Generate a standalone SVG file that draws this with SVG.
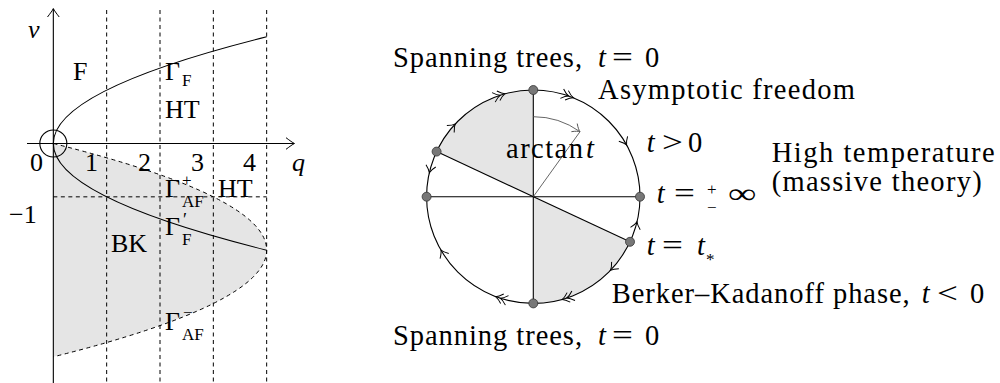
<svg xmlns="http://www.w3.org/2000/svg" width="1000" height="383" viewBox="0 0 1000 383" font-family="'Liberation Serif', 'DejaVu Serif', serif">
<style>
text{font-family:'Liberation Serif','DejaVu Serif',serif;fill:#000}
.l{font-size:26px}
.r{font-size:28.5px}
.s{font-size:17px}
.i{font-style:italic}
.ln{fill:none;stroke:#000;stroke-width:1.1}
.ds{fill:none;stroke:#000;stroke-width:1;stroke-dasharray:4 3.5}
.dot{fill:#777;stroke:#333;stroke-width:0.8}
.ah{fill:none;stroke:#000;stroke-width:1}
</style>
<defs>
<path id="ah" d="M -7,-5 C -4,-2 -1.5,-0.5 0,0 C -1.5,0.5 -4,2 -7,5"/>
<g id="ah2"><use href="#ah" x="5"/><use href="#ah"/></g>
</defs>
<g id="plot">
<path id="bk-region" d="M 53.33,143.5 Q 480,250.17 53.33,356.83 Z" fill="#e5e5e5"/>
<g id="grid">
<line class="ds" x1="106.67" y1="10" x2="106.67" y2="383"/>
<line class="ds" x1="160" y1="10" x2="160" y2="383"/>
<line class="ds" x1="213.33" y1="10" x2="213.33" y2="383"/>
<line class="ds" x1="266.67" y1="10" x2="266.67" y2="383"/>
<line class="ds" x1="53.33" y1="196.83" x2="266.67" y2="196.83"/>
</g>
<g id="connectors">
<path id="gamma-af" class="ds" d="M 53.33,143.5 Q 480,250.17 53.33,356.83"/>
<path id="gamma-f" class="ln" d="M 53.33,143.5 Q 53.33,90.17 266.67,36.83"/>
<path id="gamma-fp" class="ln" d="M 53.33,143.5 Q 53.33,196.83 266.67,250.17"/>
<line class="ln" x1="53.33" y1="383" x2="53.33" y2="9"/>
<path class="ah" d="M 47.5,17 C 50.5,13 52.5,10.5 53.33,8.5 C 54.2,10.5 56.2,13 59.2,17"/>
<line class="ln" x1="27" y1="143.5" x2="294" y2="143.5"/>
<path class="ah" d="M 286,137.7 C 290,140.7 292.5,142.6 294.5,143.5 C 292.5,144.4 290,146.3 286,149.3"/>
<circle class="ln" cx="53.33" cy="143.5" r="13.5"/>
</g>
<g id="plot-labels">
<text class="l i" x="28" y="38">v</text>
<text class="l i" x="292" y="171">q</text>
<text class="l" x="30" y="171">0</text>
<text class="l" x="85" y="171">1</text>
<text class="l" x="138" y="171">2</text>
<text class="l" x="191" y="171">3</text>
<text class="l" x="243" y="171">4</text>
<text class="l" x="9" y="223">−1</text>
<text class="l" x="73" y="80">F</text>
<text class="l" x="165" y="80">Γ</text><text class="s" x="182" y="86">F</text>
<text class="l" x="165" y="118">HT</text>
<text class="l" x="165" y="197">Γ</text><text class="s" x="182" y="186">+</text><text class="s" x="182" y="207">AF</text>
<text class="l" x="218" y="197">HT</text>
<text class="l" x="165" y="235">Γ</text><text x="183" y="225.5" font-size="18">′</text><text class="s" x="182" y="245">F</text>
<text class="l" x="111" y="252">BK</text>
<text class="l" x="165" y="330">Γ</text><text class="s" x="183" y="318">−</text><text class="s" x="182" y="340">AF</text>
</g>
</g>
<g id="flow">
<path id="sector-ul" d="M 533.3,196.7 L 533.3,90 A 106.7 106.7 0 0 0 436.6,151.6 Z" fill="#e5e5e5"/>
<path id="sector-lr" d="M 533.3,196.7 L 533.3,303.4 A 106.7 106.7 0 0 0 630,241.8 Z" fill="#e5e5e5"/>
<g id="flow-connectors">
<circle class="ln" cx="533.3" cy="196.7" r="106.7"/>
<line class="ln" x1="533.3" y1="90" x2="533.3" y2="303.4"/>
<line class="ln" x1="426.6" y1="196.7" x2="640" y2="196.7"/>
<line class="ln" x1="436.6" y1="151.6" x2="630" y2="241.8"/>
<g class="ah">
<use href="#ah" transform="translate(429.3,172.7) rotate(103)"/>
<use href="#ah" transform="translate(455.3,123.9) rotate(-47)"/>
<use href="#ah2" transform="translate(500.3,95.2) rotate(-18)"/>
<use href="#ah2" transform="translate(568.6,96) rotate(19.3)"/>
<use href="#ah" transform="translate(626.6,145) rotate(61)"/>
<use href="#ah" transform="translate(637,221.8) rotate(-76.4)"/>
<use href="#ah" transform="translate(610.4,270.4) rotate(133.7)"/>
<use href="#ah2" transform="translate(566.8,298) rotate(161.7)"/>
<use href="#ah2" transform="translate(500.3,298.2) rotate(198)"/>
<use href="#ah" transform="translate(440.9,250) rotate(240)"/>
</g>
<g id="arctan-arrow" fill="none" stroke="#555" stroke-width="0.9">
<line x1="533.3" y1="196.7" x2="580" y2="131.7"/>
<path d="M 533.3,116.7 A 80 80 0 0 1 580,131.7"/>
<use href="#ah" transform="translate(580,131.7) rotate(35.7)"/>
</g>
</g>
<g id="fixed-points">
<circle class="dot" cx="533.3" cy="90" r="4.5"/>
<circle class="dot" cx="533.3" cy="303.4" r="4.5"/>
<circle class="dot" cx="426.6" cy="196.7" r="4.5"/>
<circle class="dot" cx="640" cy="196.7" r="4.5"/>
<circle class="dot" cx="436.6" cy="151.6" r="4.5"/>
<circle class="dot" cx="630" cy="241.8" r="4.5"/>
</g>
<g id="flow-labels">
<text class="r" x="393" y="66.5" textLength="189" lengthAdjust="spacing">Spanning trees,</text>
<text class="r i" x="598" y="66.5">t</text><text class="r" transform="translate(612,66.5) scale(1.3,1)">=</text><text class="r" x="645" y="66.5">0</text>
<text class="r" x="598" y="99" textLength="257" lengthAdjust="spacing">Asymptotic freedom</text>
<text class="r i" x="646.7" y="151.7">t</text><text class="r" transform="translate(662,151.7) scale(1.3,1)">&gt;</text><text class="r" x="688" y="151.7">0</text>
<text class="r" x="506" y="158.3" textLength="77" lengthAdjust="spacing">arctan</text><text class="r i" x="586" y="158.3">t</text>
<text class="r i" x="656.7" y="203.3">t</text><text class="r" transform="translate(674,203.3) scale(1.3,1)">=</text><text class="s" x="707" y="195">+</text><text class="s" x="707" y="213">−</text><text class="r" transform="translate(728,203.3) scale(1.4,1)">∞</text>
<text class="r" x="771.7" y="161.7" textLength="223" lengthAdjust="spacing">High temperature</text>
<text class="r" x="771.7" y="191" textLength="210" lengthAdjust="spacing">(massive theory)</text>
<text class="r i" x="646.7" y="255">t</text><text class="r" transform="translate(662,255) scale(1.3,1)">=</text><text class="r i" x="697" y="255">t</text><text class="s" x="706" y="265">*</text>
<text class="r" x="611.7" y="303.3" textLength="298" lengthAdjust="spacing">Berker–Kadanoff phase,</text>
<text class="r i" x="921.7" y="303.3">t</text><text class="r" transform="translate(937,303.3) scale(1.3,1)">&lt;</text><text class="r" x="970" y="303.3">0</text>
<text class="r" x="393" y="345" textLength="189" lengthAdjust="spacing">Spanning trees,</text>
<text class="r i" x="598" y="345">t</text><text class="r" transform="translate(612,345) scale(1.3,1)">=</text><text class="r" x="645" y="345">0</text>
</g>
</g>
</svg>
